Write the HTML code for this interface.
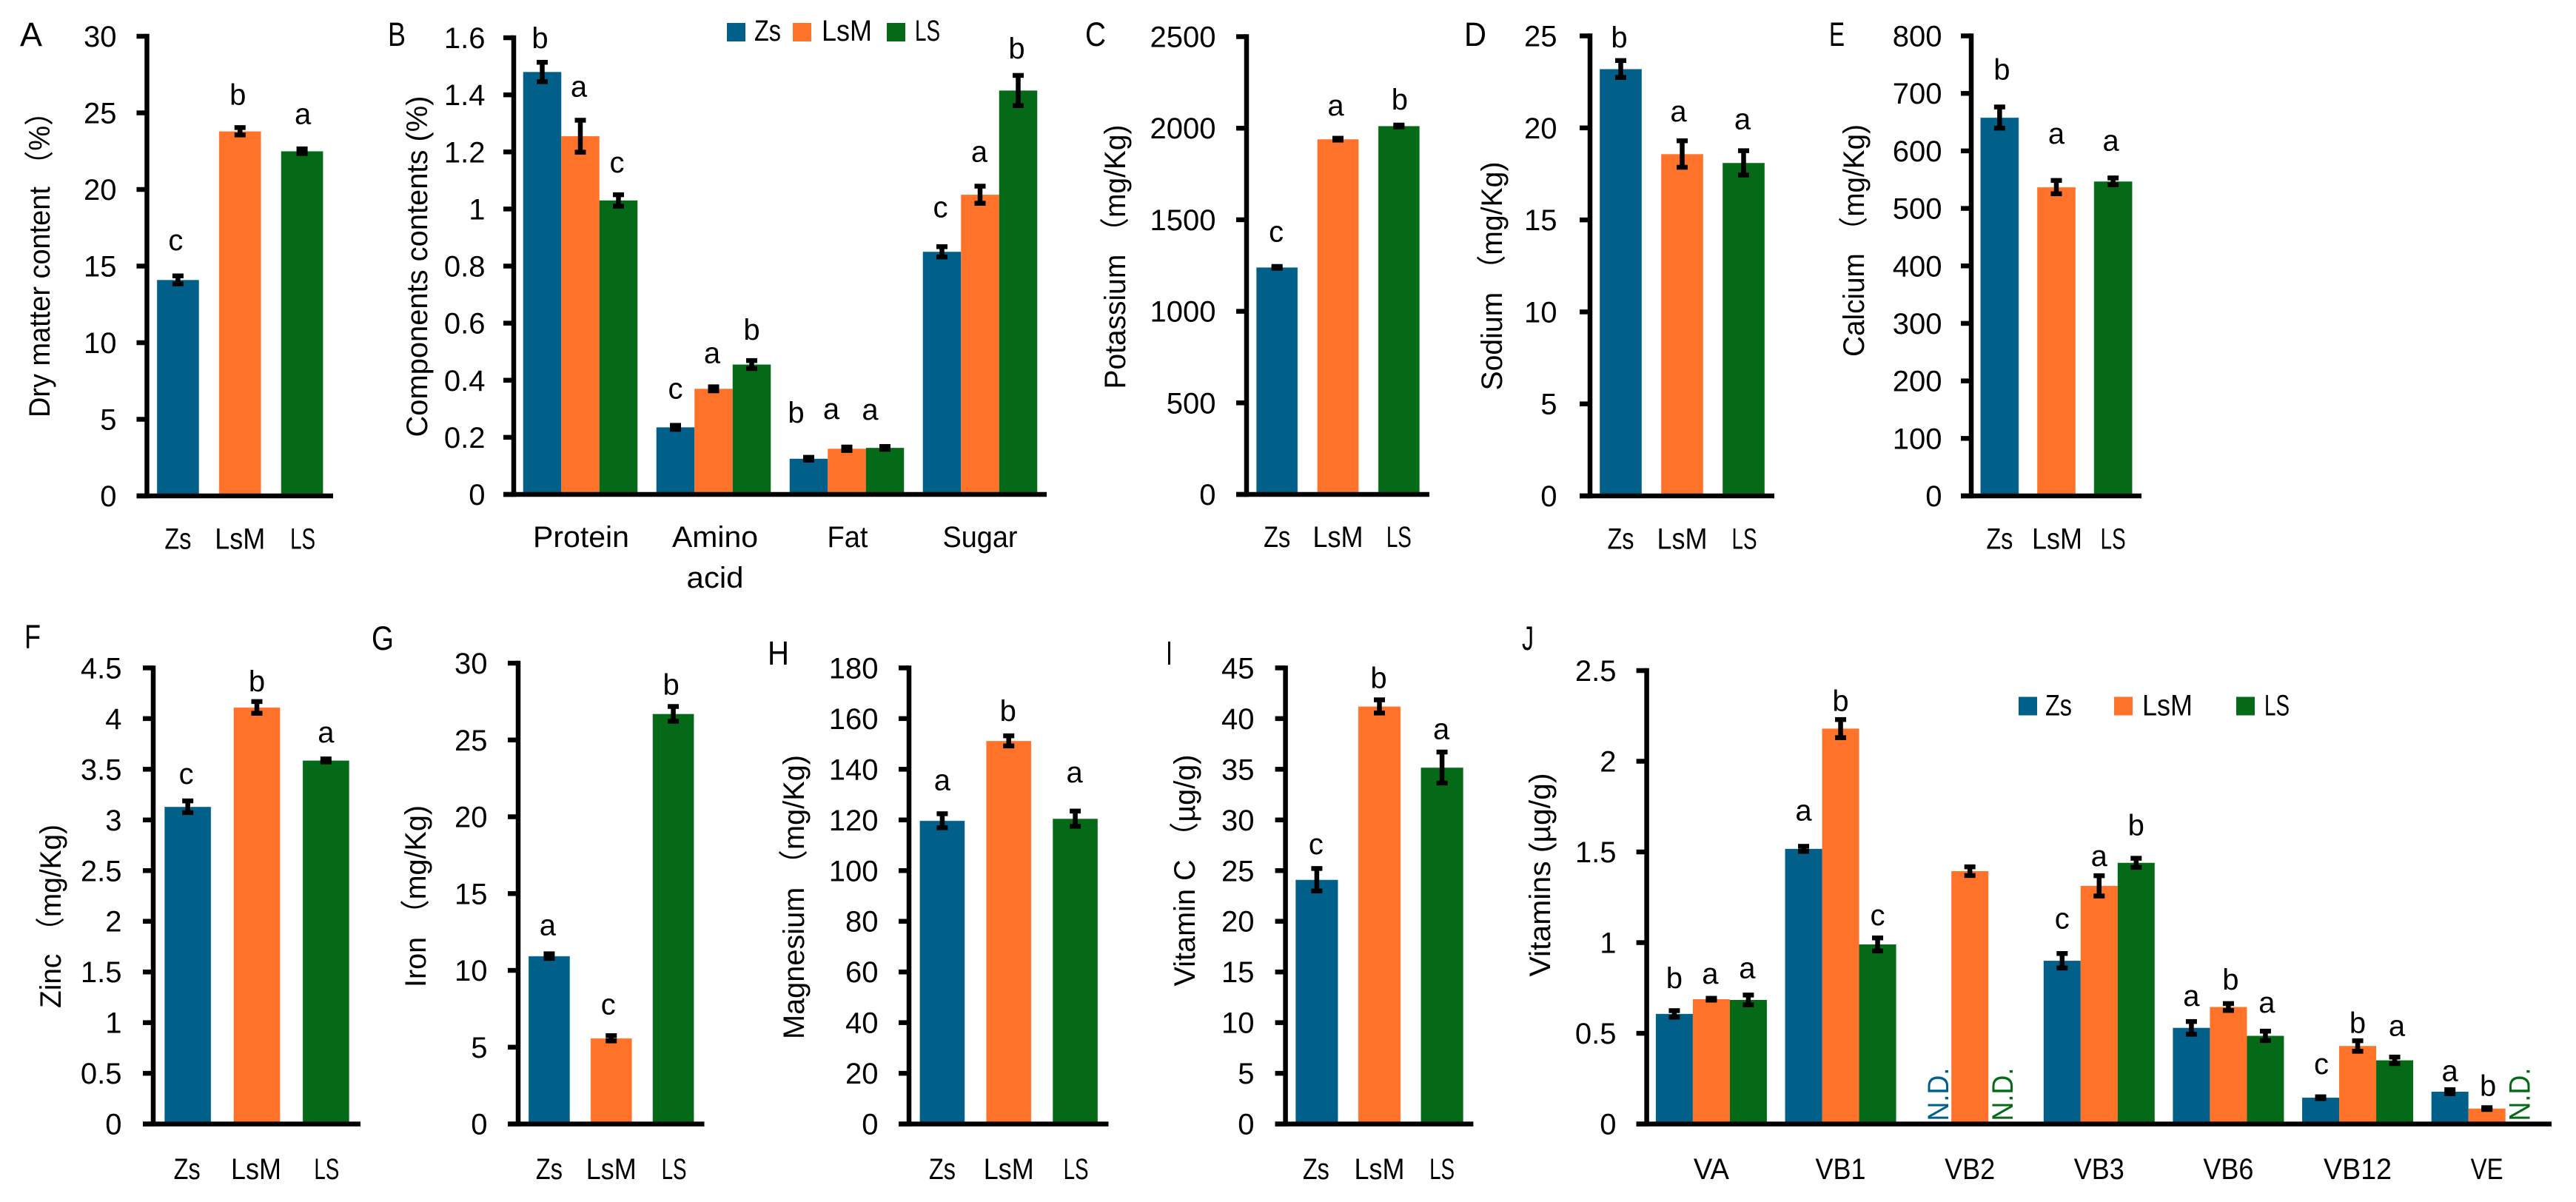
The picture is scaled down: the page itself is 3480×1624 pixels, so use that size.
<!DOCTYPE html>
<html lang="en">
<head>
<meta charset="utf-8">
<title>Nutrient composition bar charts</title>
<style>
html,body{margin:0;padding:0;background:#fff;}
svg{display:block;}
text{font-family:"Liberation Sans","Noto Sans CJK SC",sans-serif;fill:#000;}
</style>
</head>
<body>
<svg id="figure" xmlns="http://www.w3.org/2000/svg" width="3480" height="1624" viewBox="0 0 3480 1624"></svg>
<script>
// ---------- chart data ----------
const threeLines = ["Zs", "LsM", "LS"];

const panelATicks = ["0","5","10","15","20","25","30"];
const panelAValues = [14.1, 23.8, 22.5];
const panelAErrors = [0.26, 0.24, 0.15];
const panelALetters = ["c", "b", "a"];

const panelBCategories = ["Protein", "Amino acid", "Fat", "Sugar"];
const panelBTicks = ["0","0.2","0.4","0.6","0.8","1","1.2","1.4","1.6"];
const panelBZs = [1.48, 0.235, 0.125, 0.85];
const panelBLsM = [1.255, 0.37, 0.16, 1.05];
const panelBLS = [1.03, 0.455, 0.163, 1.415];
const panelBZsErr = [0.034, 0.007, 0.005, 0.018];
const panelBLsMErr = [0.056, 0.007, 0.006, 0.03];
const panelBLSErr = [0.02, 0.014, 0.005, 0.053];
const panelBZsSig = ["b", "c", "b", "c"];
const panelBLsMSig = ["a", "a", "a", "a"];
const panelBLSSig = ["c", "b", "a", "b"];

const panelCTicks = ["0","500","1000","1500","2000","2500"];
const panelCValues = [1240, 1940, 2012];
const panelCErrors = [5, 5, 5];
const panelCLetters = ["c", "a", "b"];

const panelDTicks = ["0","5","10","15","20","25"];
const panelDValues = [23.2, 18.58, 18.1];
const panelDErrors = [0.46, 0.72, 0.66];
const panelDLetters = ["b", "a", "a"];

const panelETicks = ["0","100","200","300","400","500","600","700","800"];
const panelEValues = [658, 537, 547];
const panelEErrors = [18.4, 11.6, 6];
const panelELetters = ["b", "a", "a"];

const panelFTicks = ["0","0.5","1","1.5","2","2.5","3","3.5","4","4.5"];
const panelFValues = [3.13, 4.11, 3.587];
const panelFErrors = [0.058, 0.058, 0.015];
const panelFLetters = ["c", "b", "a"];

const panelGTicks = ["0","5","10","15","20","25","30"];
const panelGValues = [10.93, 5.58, 26.7];
const panelGErrors = [0.15, 0.17, 0.48];
const panelGLetters = ["a", "c", "b"];

const panelHTicks = ["0","20","40","60","80","100","120","140","160","180"];
const panelHValues = [119.7, 151.2, 120.5];
const panelHErrors = [2.75, 2, 3];
const panelHLetters = ["a", "b", "a"];

const panelITicks = ["0","5","10","15","20","25","30","35","40","45"];
const panelIValues = [24.1, 41.2, 35.17];
const panelIErrors = [1.11, 0.65, 1.53];
const panelILetters = ["c", "b", "a"];

const panelJCategories = ["VA", "VB1", "VB2", "VB3", "VB6", "VB12", "VE"];
const panelJTicks = ["0","0.5","1","1.5","2","2.5"];
const panelJZs = [0.607, 1.517, null, 0.90, 0.53, 0.145, 0.178];
const panelJLsM = [0.688, 2.18, 1.394, 1.313, 0.645, 0.43, 0.085];
const panelJLS = [0.684, 0.99, null, 1.44, 0.486, 0.351, null];
const panelJZsErr = [0.018, 0.014, 0, 0.04, 0.035, 0.005, 0.011];
const panelJLsMErr = [0.005, 0.05, 0.024, 0.056, 0.019, 0.029, 0.005];
const panelJLSErr = [0.027, 0.036, 0, 0.025, 0.026, 0.018, 0];
const panelJZsSig = ["b", "a", "", "c", "a", "c", "a"];
const panelJLsMSig = ["a", "b", "", "a", "b", "b", "b"];
const panelJLSSig = ["a", "c", "", "b", "a", "a", ""];

// ---------- layout and styling ----------
const seriesColors = ["#00608a", "#ff7229", "#046a17"];
const labelWidths = {Zs:36, LsM:68, LS:34, Protein:130, Amino:116, acid:77, Fat:55, Sugar:101,
  VA:48, VB1:68, VB2:68, VB3:68, VB6:68, VB12:92, VE:44};
const NS = "http://www.w3.org/2000/svg";
const figure = document.getElementById("figure");

function mk(tag, attrs, parent, content) {
  const node = document.createElementNS(NS, tag);
  for (const key in attrs) node.setAttribute(key, attrs[key]);
  if (content !== undefined) node.textContent = content;
  parent.appendChild(node);
  return node;
}

function drawPanel(cfg) {
  const panel = mk("g", {}, figure);
  
  

  const maxValue = Number(cfg.ticks[cfg.ticks.length - 1]);
  const yScale = v => cfg.bottom - (v / maxValue) * (cfg.bottom - cfg.top);
  const band = (cfg.right - cfg.left) / cfg.categories.length;
  const xCenter = i => cfg.left + band * (i + 0.5);
  const groupCount = cfg.series.length;

  // bars, error bars, significance letters
  let k = 0;
  cfg.categories.forEach((cat, i) => {
    cfg.series.forEach((s, j) => {
      const index = k++;
      const cx = xCenter(i) + (j - (groupCount - 1) / 2) * cfg.barWidth;
      const color = groupCount === 1 ? seriesColors[i] : seriesColors[j];
      const value = s.values[i];
      if (value === null) {
        const nd = mk("text", {
          transform: "translate(" + (cx + (j === 0 ? 21 : 8)) + "," + (cfg.bottom - 4) + ") rotate(-90)",
          "font-size": 40, textLength: 72, lengthAdjust: "spacingAndGlyphs",
          style: "fill:" + color
        }, panel, "N.D.");
        
        
        return;
      }
      const barAttrs = {
        x: cx - cfg.barWidth / 2, y: yScale(value),
        width: cfg.barWidth, height: cfg.bottom - yScale(value), fill: color
      };
      const bar = mk("rect", barAttrs, panel);
      
      
      if (groupCount === 1) {
        bar.setAttribute("stroke", "#fff");
        bar.setAttribute("stroke-opacity", "0.4");
        bar.setAttribute("stroke-width", "1");
      }

      const err = s.errors[i];
      const hi = yScale(value + err), lo = yScale(value - err);
      const errGroup = mk("g", {stroke: "#000", fill: "none"}, panel);
      
      
      mk("line", {x1: cx, x2: cx, y1: hi, y2: lo, "stroke-width": 6.5}, errGroup);
      mk("line", {x1: cx - 7.5, x2: cx + 7.5, y1: hi, y2: hi, "stroke-width": 6.5}, errGroup);
      mk("line", {x1: cx - 7.5, x2: cx + 7.5, y1: lo, y2: lo, "stroke-width": 6.5}, errGroup);

      const sig = s.letters[i];
      if (sig) {
        const t = mk("text", {
          x: cx + (cfg.letterShift[index] || 0),
          y: hi - cfg.letterLift[index],
          "font-size": 40, "text-anchor": "middle"
        }, panel, sig);
        
        
      }
    });
  });

  // axes
  const yAxis = mk("line", {x1: cfg.left, x2: cfg.left, y1: cfg.top - 3.2, y2: cfg.bottom + 3.2, stroke: "#000", "stroke-width": 6.5}, panel);
  
  
  const xAxis = mk("line", {x1: cfg.left - 14, x2: cfg.right, y1: cfg.bottom, y2: cfg.bottom, stroke: "#000", "stroke-width": 6.5}, panel);
  
  

  cfg.ticks.forEach(label => {
    const ty = yScale(Number(label));
    const tick = mk("line", {x1: cfg.left - 14, x2: cfg.left, y1: ty, y2: ty, stroke: "#000", "stroke-width": 6.5}, panel);
    
    
    const tl = mk("text", {x: cfg.tickRight + 1.5, y: ty + 14, "font-size": 40, "text-anchor": "end"}, panel, label);
    
    
  });

  // category labels
  cfg.categories.forEach((cat, i) => {
    cat.split(" ").forEach((word, line) => {
      const c = mk("text", {
        x: xCenter(i) + (cfg.labelShift[i] || 0), y: cfg.labelY + line * 55,
        "font-size": 40, "text-anchor": "middle",
        textLength: labelWidths[word], lengthAdjust: "spacingAndGlyphs"
      }, panel, word);
      
      
    });
  });

  // y title
  const title = mk("text", {
    transform: "translate(" + cfg.titleX + "," + cfg.titleY + ") rotate(-90)",
    "font-size": 40, "text-anchor": "middle",
    textLength: cfg.titleLength, lengthAdjust: "spacingAndGlyphs"
  }, panel, cfg.title);
  
  

  // panel letter
  const letter = mk("text", {
    x: cfg.tagX, y: cfg.tagY, "font-size": 45,
    textLength: cfg.tagWidth, lengthAdjust: "spacingAndGlyphs"
  }, panel, cfg.id.toUpperCase());
  
  
}

function drawLegend(swatchX, textX, top, size, baseline) {
  const legend = mk("g", {}, figure);
  
  
  threeLines.forEach((name, i) => {
    const sw = mk("rect", {x: swatchX[i], y: top, width: size, height: size, fill: seriesColors[i]}, legend);
    
    
    const lb = mk("text", {
      x: textX[i], y: baseline, "font-size": 40,
      textLength: labelWidths[name], lengthAdjust: "spacingAndGlyphs"
    }, legend, name);
    
    
  });
}

function single(values, errors, letters) {
  return [{values: values, errors: errors, letters: letters}];
}

drawPanel({id:"a", ticks:panelATicks, categories:threeLines,
  series:single(panelAValues,panelAErrors,panelALetters),
  left:198.5, right:450, top:49, bottom:670, barWidth:57, tickRight:156, labelY:741.5, labelShift:[0,0,1],
  letterLift:[34.5,31,33.8], letterShift:[-3,-3,1],
  title:"Dry matter content （%）", titleX:67, titleY:348, titleLength:432,
  tagX:27, tagY:62, tagWidth:30});

drawPanel({id:"b", ticks:panelBTicks, categories:panelBCategories,
  series:[
    {values:panelBZs, errors:panelBZsErr, letters:panelBZsSig},
    {values:panelBLsM, errors:panelBLsMErr, letters:panelBLsMSig},
    {values:panelBLS, errors:panelBLSErr, letters:panelBLSSig}],
  left:694, right:1414, top:51, bottom:668, barWidth:51.5, tickRight:654, labelY:739, labelShift:[1,2,1,0],
  letterLift:[19,32,30, 36,32,28, 47,38,36, 40,33,23],
  letterShift:[-3,-2,-2, 0,-2,0, -17,-21,-20, -2,-1,-2],
  title:"Components contents (%)", titleX:577, titleY:360, titleLength:461,
  tagX:524, tagY:62, tagWidth:24});

drawPanel({id:"c", ticks:panelCTicks, categories:threeLines,
  series:single(panelCValues,panelCErrors,panelCLetters),
  left:1684, right:1931, top:49.5, bottom:668, barWidth:56, tickRight:1641, labelY:739, labelShift:[0,0,0],
  letterLift:[33.5,31,21], letterShift:[-1,-3,1],
  title:"Potassium （mg/Kg)", titleX:1520, titleY:347, titleLength:357,
  tagX:1466, tagY:62, tagWidth:28});

drawPanel({id:"d", ticks:panelDTicks, categories:threeLines,
  series:single(panelDValues,panelDErrors,panelDLetters),
  left:2148, right:2397, top:48.5, bottom:670, barWidth:57, tickRight:2102, labelY:741.5, labelShift:[0,0,1],
  letterLift:[18,26,29], letterShift:[-2,-5,-1.5],
  title:"Sodium （mg/Kg)", titleX:2029, titleY:373, titleLength:309,
  tagX:1978, tagY:62, tagWidth:30});

drawPanel({id:"e", ticks:panelETicks, categories:threeLines,
  series:single(panelEValues,panelEErrors,panelELetters),
  left:2663, right:2893, top:48.5, bottom:670, barWidth:52, tickRight:2622, labelY:741.5, labelShift:[0,1,0],
  letterLift:[37,50,37], letterShift:[3,0,-3],
  title:"Calcium （mg/Kg)", titleX:2518, titleY:325, titleLength:314,
  tagX:2471, tagY:62, tagWidth:21});

drawPanel({id:"f", ticks:panelFTicks, categories:threeLines,
  series:single(panelFValues,panelFErrors,panelFLetters),
  left:207, right:487, top:902.4, bottom:1518.6, barWidth:63, tickRight:163, labelY:1593, labelShift:[-1,-1,1],
  letterLift:[23,14,22.5], letterShift:[-2,0,0],
  title:"Zinc （mg/Kg)", titleX:82, titleY:1238, titleLength:248,
  tagX:33, tagY:875.6, tagWidth:22});

drawPanel({id:"g", ticks:panelGTicks, categories:threeLines,
  series:single(panelGValues,panelGErrors,panelGLetters),
  left:700, right:951.5, top:896, bottom:1518.6, barWidth:56, tickRight:657, labelY:1593, labelShift:[0,0,1],
  letterLift:[25,29,16], letterShift:[-2,-4,-3],
  title:"Iron （mg/Kg)", titleX:575, titleY:1211, titleLength:246,
  tagX:502, tagY:878, tagWidth:30});

drawPanel({id:"h", ticks:panelHTicks, categories:threeLines,
  series:single(panelHValues,panelHErrors,panelHLetters),
  left:1228, right:1497.5, top:902.4, bottom:1518.6, barWidth:61, tickRight:1185, labelY:1593, labelShift:[0,0,1],
  letterLift:[32,20,39], letterShift:[0,-1,-1],
  title:"Magnesium （mg/Kg)", titleX:1086, titleY:1212, titleLength:384,
  tagX:1037, tagY:898, tagWidth:29});

drawPanel({id:"i", ticks:panelITicks, categories:threeLines,
  series:single(panelIValues,panelIErrors,panelILetters),
  left:1736.6, right:1990.4, top:902.4, bottom:1518.6, barWidth:57.5, tickRight:1693, labelY:1593, labelShift:[-1,0,0],
  letterLift:[19.5,16,17.5], letterShift:[-1,-1,-1],
  title:"Vitamin C （µg/g)", titleX:1614, titleY:1176, titleLength:313,
  tagX:1575, tagY:898, tagWidth:9});

drawPanel({id:"j", ticks:panelJTicks, categories:panelJCategories,
  series:[
    {values:panelJZs, errors:panelJZsErr, letters:panelJZsSig},
    {values:panelJLsM, errors:panelJLsMErr, letters:panelJLsMSig},
    {values:panelJLS, errors:panelJLSErr, letters:panelJLSSig}],
  left:2224.6, right:3447, top:906, bottom:1518.6, barWidth:50, tickRight:2182, labelY:1593, labelShift:[0,0,0,0,0,0,0],
  letterLift:[30.5,20,23, 35,11.6,17, 0,0,0, 34,13,31, 21,19,25, 31,10.5,28.5, 12,16,0],
  letterShift:[0,-1.5,-1.5, 0,0,0, 0,0,0, 0,0,0, 0,3,2, 1,0,3, 0,1.5,0],
  title:"Vitamins (µg/g)", titleX:2094, titleY:1182, titleLength:275,
  tagX:2056, tagY:878, tagWidth:16});

drawLegend([982,1071,1198], [1019,1110,1236], 31, 25, 55);
drawLegend([2727,2856,3021], [2763,2894,3059], 941.5, 25, 966.7);
</script>
</body>
</html>
